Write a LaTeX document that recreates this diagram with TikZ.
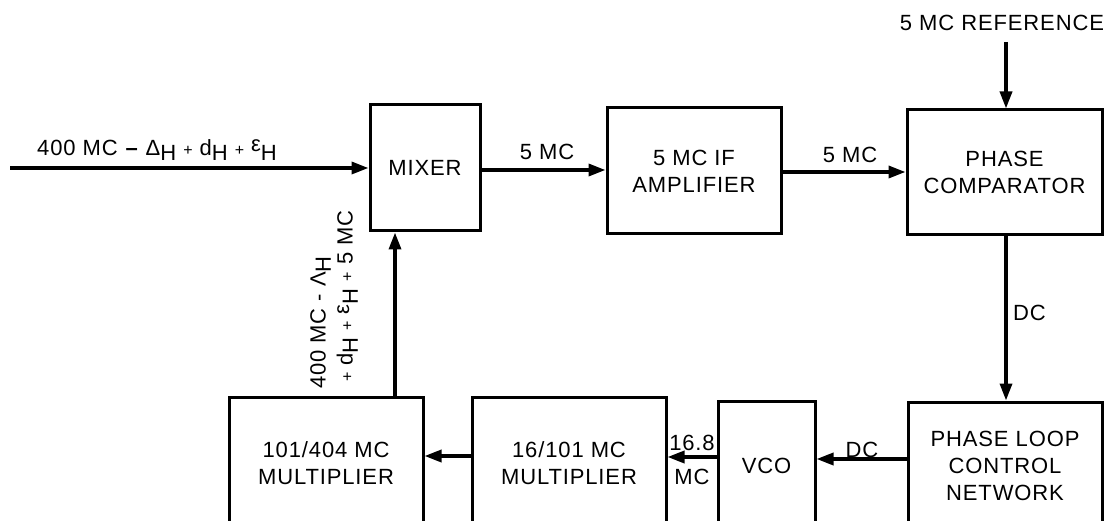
\documentclass[tikz,border=0pt]{standalone}
\usepackage{fontspec}
\setmainfont[LetterSpace=4]{Liberation Sans}
\usetikzlibrary{arrows.meta}
\newcommand{\sbH}{\raisebox{-0.45ex}{H}}
\newcommand{\pl}{\ {\fontsize{16}{16}\selectfont +}\ }
\newcommand{\eps}{\raisebox{0.3ex}{ε}}
\begin{document}
\begin{tikzpicture}[x=1pt,y=-1pt,
  font=\fontsize{22}{27}\selectfont,
  block/.style={draw,line width=3pt,inner sep=0pt,align=center},
  conn/.style={line width=3.4pt,-{Triangle[length=17pt,width=12pt]}},
  lbl/.style={inner sep=1pt}]
\useasboundingbox (0,0) rectangle (1105,521);
\clip (0,0) rectangle (1105,521);
% blocks
\node[block,minimum width=110pt,minimum height=126pt] (mixer) at (425,168) {MIXER};
\node[block,minimum width=174pt,minimum height=126pt] (ifamp) at (694,171) {5 MC IF\\AMPLIFIER};
\node[block,minimum width=195pt,minimum height=125pt] (comp) at (1004.5,172.5) {PHASE\\COMPARATOR};
\node[block,minimum width=194pt,minimum height=133pt] (m404) at (326,463.5) {101/404 MC\\MULTIPLIER};
\node[block,minimum width=194pt,minimum height=133pt] (m101) at (569,463.5) {16/101 MC\\MULTIPLIER};
\node[block,minimum width=97pt,minimum height=129pt] (vco) at (766.5,465.5) {VCO};
\node[block,minimum width=194pt,minimum height=128pt] (ploop) at (1005,466) {PHASE LOOP\\CONTROL\\NETWORK};
% helper coordinates
\coordinate (in) at (10,168);
\coordinate (ref) at (1006,42);
\coordinate (fb) at (395,0);
\coordinate (ry1) at (0,459);
\coordinate (ry2) at (0,457);
\coordinate (ry3) at (0,456);
\coordinate (ty1) at (0,170);
\coordinate (ty2) at (0,172);
% connectors
\draw[conn] (in) -- (mixer.west |- in);
\draw[conn] (mixer.east |- ty1) -- (ifamp.west |- ty1);
\draw[conn] (ifamp.east |- ty2) -- (comp.west |- ty2);
\draw[conn] (ref) -- (ref |- comp.north);
\draw[conn] (ref |- comp.south) -- (ref |- ploop.north);
\draw[conn] (ploop.west |- ry1) -- (vco.east |- ry1);
\draw[conn] (vco.west |- ry2) -- (m101.east |- ry2);
\draw[conn] (m101.west |- ry3) -- (m404.east |- ry3);
\draw[conn] (fb |- m404.north) -- (fb |- mixer.south);
% labels
\node[lbl,anchor=west] (linput) at (36,150) {400 MC \textbf{–} Δ\sbH\pl d\sbH\pl\eps\sbH};
\node[lbl] (l5a) at (547,152) {5 MC};
\node[lbl] (l5b) at (850,155) {5 MC};
\node[lbl] (lref) at (1002,23) {5 MC REFERENCE};
\node[lbl,anchor=west] (ldc1) at (1012,313) {DC};
\node[lbl] (ldc2) at (862,450) {DC};
\node[lbl] (l168) at (692,443) {16.8};
\node[lbl] (lmc) at (692,477) {MC};
\node[lbl,rotate=90,anchor=north west,align=left] (lfb) at (309,390)
  {400 MC - Λ\sbH\\\pl d\sbH\pl\eps\sbH\pl 5 MC};
\end{tikzpicture}
\end{document}
